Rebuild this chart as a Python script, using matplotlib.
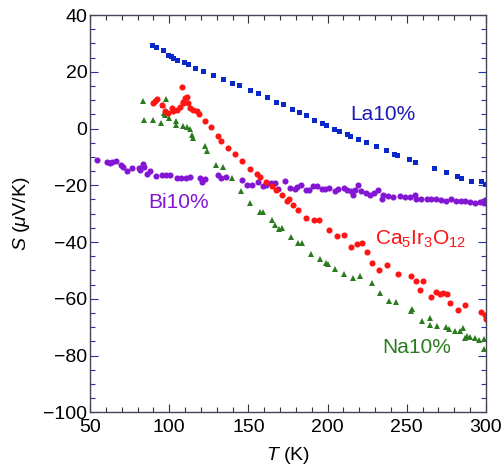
import matplotlib
matplotlib.use("Agg")
import matplotlib.pyplot as plt
from matplotlib.ticker import MultipleLocator

plt.rcParams['font.family'] = ['Liberation Sans', 'DejaVu Sans']
plt.rcParams['mathtext.fontset'] = 'custom'
plt.rcParams['mathtext.rm'] = 'Liberation Sans'
plt.rcParams['mathtext.it'] = 'Liberation Sans:italic'

# La10% (blue squares)
la_T = [88.9, 91.6, 96.3, 99.4, 100.9, 102.6, 105.1, 109.3, 111.6, 116.3, 121.5, 127.4,
        134.1, 139.4, 144.0, 151.0, 155.8, 161.5, 167.4, 171.6, 177.3, 182.1, 186.1,
        191.3, 196.8, 198.9, 204.0, 207.3, 212.0, 214.1, 219.3, 224.2, 230.5, 237.2,
        242.0, 243.9, 251.3, 255.5, 267.3, 275.1, 282.0, 284.1, 290.9, 296.7, 299.2]
la_S = [29.6, 28.8, 27.6, 25.9, 25.5, 25.0, 24.1, 23.3, 22.7, 21.4, 20.3, 18.8,
        17.4, 16.2, 15.3, 13.6, 12.4, 11.0, 9.5, 8.5, 6.9, 5.7, 4.6,
        3.0, 1.9, 1.3, -0.1, -0.8, -1.9, -2.6, -3.6, -4.8, -6.3, -7.7,
        -9.0, -9.5, -10.8, -11.7, -13.9, -15.5, -16.9, -17.4, -18.6, -18.6, -19.6]

# Ca5Ir3O12 (red circles)
ca_T = [89.6, 91.0, 92.5, 95.2, 97.3, 99.4, 101.6, 102.6, 104.7, 106.8, 107.9, 108.5,
        108.9, 109.9, 111.0, 112.0, 113.1, 115.2, 117.3, 119.0, 122.6, 126.5, 131.1,
        132.7, 137.1, 141.7, 146.2, 151.0, 155.2, 157.3, 160.9, 165.2, 167.4, 171.0,
        174.6, 175.8, 178.3, 181.1, 186.6, 191.5, 194.7, 200.8, 205.7, 210.5, 215.1,
        218.7, 221.8, 225.0, 228.1, 232.5, 237.8, 244.5, 252.4, 256.1, 258.2, 260.3,
        265.6, 268.8, 270.9, 272.6, 275.7, 277.6, 282.4, 287.1, 297.2, 299.7, 299.9]
ca_S = [8.9, 9.8, 10.3, 8.3, 6.2, 5.4, 7.4, 6.0, 6.5, 7.7, 14.5, 9.5,
        8.9, 10.6, 11.2, 8.9, 7.4, 6.5, 6.0, 5.1, 2.7, 0.6, -2.8,
        -4.3, -6.7, -9.1, -11.4, -14.1, -15.9, -17.0, -19.0, -20.4, -21.8, -23.5,
        -25.5, -24.8, -27.0, -28.6, -31.7, -32.4, -32.1, -35.6, -37.9, -37.6, -41.8,
        -40.6, -40.3, -43.5, -47.5, -49.9, -48.1, -51.3, -52.0, -53.8, -57.0, -53.8,
        -59.3, -57.6, -58.4, -58.0, -58.4, -61.5, -64.0, -62.2, -64.6, -65.8, -67.3]

# Na10% (green triangles)
na_T = [83.6, 84.1, 89.9, 95.0, 96.3, 96.8, 97.3, 98.0, 99.7, 104.2, 104.1, 108.9,
        111.2, 113.1, 114.5, 114.8, 122.6, 123.6, 129.5, 134.1, 139.6, 145.4, 150.8,
        157.3, 159.2, 164.7, 166.7, 169.6, 171.5, 176.7, 181.4, 184.1, 189.8, 195.1,
        198.9, 200.0, 204.6, 210.5, 215.8, 220.4, 227.8, 233.0, 238.7, 243.5, 252.4,
        253.6, 259.9, 264.5, 265.0, 269.2, 275.1, 276.7, 280.3, 283.5, 285.6, 286.6,
        288.1, 289.8, 292.9, 295.6, 298.6, 298.6]
na_S = [9.7, 2.9, 3.0, 2.0, 8.2, 5.4, 4.8, 10.3, 3.8, 2.7, 1.3, 0.9,
        0.5, -0.2, -2.2, -3.2, -6.1, -7.8, -12.8, -13.7, -17.3, -22.1, -26.1,
        -29.4, -29.4, -32.1, -34.0, -35.5, -35.0, -38.3, -40.3, -40.3, -44.2, -45.9,
        -47.5, -47.6, -49.6, -51.2, -52.6, -52.0, -54.5, -58.0, -60.7, -61.3, -64.2,
        -63.7, -68.0, -66.8, -69.3, -69.5, -70.1, -70.5, -71.5, -71.3, -70.3, -73.8,
        -73.0, -73.6, -73.8, -74.5, -74.2, -77.7]

# Bi10% (purple circles)
bi_T = [54.7, 60.9, 62.3, 63.7, 66.6, 69.4, 70.8, 73.2, 76.5, 80.7, 81.5, 83.6,
        84.3, 86.1, 87.7, 91.8, 95.2, 98.0, 100.5, 104.7, 107.4, 110.6, 113.4, 119.4,
        120.7, 122.6, 130.6, 132.7, 135.8, 145.9, 149.4, 152.2, 156.0, 159.0, 161.4,
        164.5, 166.7, 168.9, 173.2, 176.2, 179.2, 180.9, 183.1, 186.5, 188.5, 190.6,
        193.2, 196.2, 198.3, 201.1, 204.9, 206.7, 210.3, 212.0, 215.1, 215.8, 217.2,
        219.3, 221.4, 224.2, 226.7, 229.4, 231.9, 234.1, 235.1, 238.2, 241.4, 245.6,
        248.8, 251.9, 255.1, 255.7, 259.3, 262.5, 265.6, 268.8, 271.9, 275.1, 278.2,
        281.4, 284.5, 286.6, 289.8, 292.9, 296.1, 298.6, 299.2]
bi_S = [-11.1, -11.9, -12.2, -11.9, -11.5, -13.0, -13.6, -14.9, -13.9, -13.9, -14.5, -12.5,
        -13.4, -15.9, -15.1, -16.6, -16.5, -16.3, -16.3, -17.5, -17.5, -17.5, -17.2, -17.3,
        -18.7, -17.8, -16.5, -17.3, -17.0, -18.3, -19.8, -19.8, -18.9, -20.1, -19.8,
        -19.3, -19.2, -21.2, -18.6, -20.8, -21.3, -20.7, -20.0, -21.7, -21.7, -20.1,
        -20.4, -21.2, -21.4, -21.0, -22.0, -21.3, -21.0, -21.8, -22.1, -23.3, -21.8,
        -19.8, -22.1, -22.7, -23.3, -22.7, -21.8, -24.7, -23.3, -23.9, -24.1, -23.9,
        -24.1, -24.1, -23.3, -25.0, -24.7, -24.7, -25.0, -24.7, -25.3, -25.6, -25.0,
        -25.4, -25.6, -25.6, -25.9, -26.2, -26.0, -26.4, -25.3]

blue = '#0a28c8'
red = '#ff1414'
green = '#2a7a1e'
purple = '#8216d2'

fig = plt.figure(figsize=(5.03, 4.69), dpi=100)
ax = fig.add_axes([0.179, 0.121, 0.787, 0.847])

ax.plot(la_T, la_S, 's', color=blue, ms=3.6, mew=0)
ax.plot(bi_T, bi_S, 'o', color=purple, ms=4.4, mew=0)
ax.plot(na_T, na_S, '^', color=green, ms=4.2, mew=0)
ax.plot(ca_T, ca_S, 'o', color=red, ms=4.4, mew=0)

ax.text(234.9, 4.9, 'La10%', color='#1a1ab4', fontsize=15, ha='center', va='center')
ax.text(106.2, -26.2, 'Bi10%', color=purple, fontsize=15, ha='center', va='center')
ax.text(259.0, -39.0, r'Ca$_{\mathregular{5}}$Ir$_{\mathregular{3}}$O$_{\mathregular{12}}$',
        color=red, fontsize=15, ha='center', va='center')
ax.text(256.0, -77.1, 'Na10%', color=green, fontsize=15, ha='center', va='center')

ax.set_xlim(50, 300)
ax.set_ylim(-100, 40)
ax.xaxis.set_major_locator(MultipleLocator(50))
ax.xaxis.set_minor_locator(MultipleLocator(10))
ax.yaxis.set_major_locator(MultipleLocator(20))
ax.yaxis.set_minor_locator(MultipleLocator(5))

ax.tick_params(which='both', direction='in', top=True, right=True, labelsize=14)
ax.tick_params(axis='y', pad=2)
ax.tick_params(axis='x', pad=5)
ax.tick_params(which='major', length=6, width=0.8)
ax.tick_params(which='minor', length=3.5, width=0.8)
ax.tick_params(axis='y', which='both', color='#2233aa')
ax.tick_params(axis='x', which='both', color='#333333')
for sp in ax.spines.values():
    sp.set_color('#444455')
    sp.set_linewidth(1.0)

ax.set_xlabel(r'$\it{T}$ (K)', fontsize=14, labelpad=6)
ax.set_ylabel(r'$\it{S}$ ($\mu$V/K)', fontsize=14, labelpad=8)

fig.savefig('out.png', dpi=100)
